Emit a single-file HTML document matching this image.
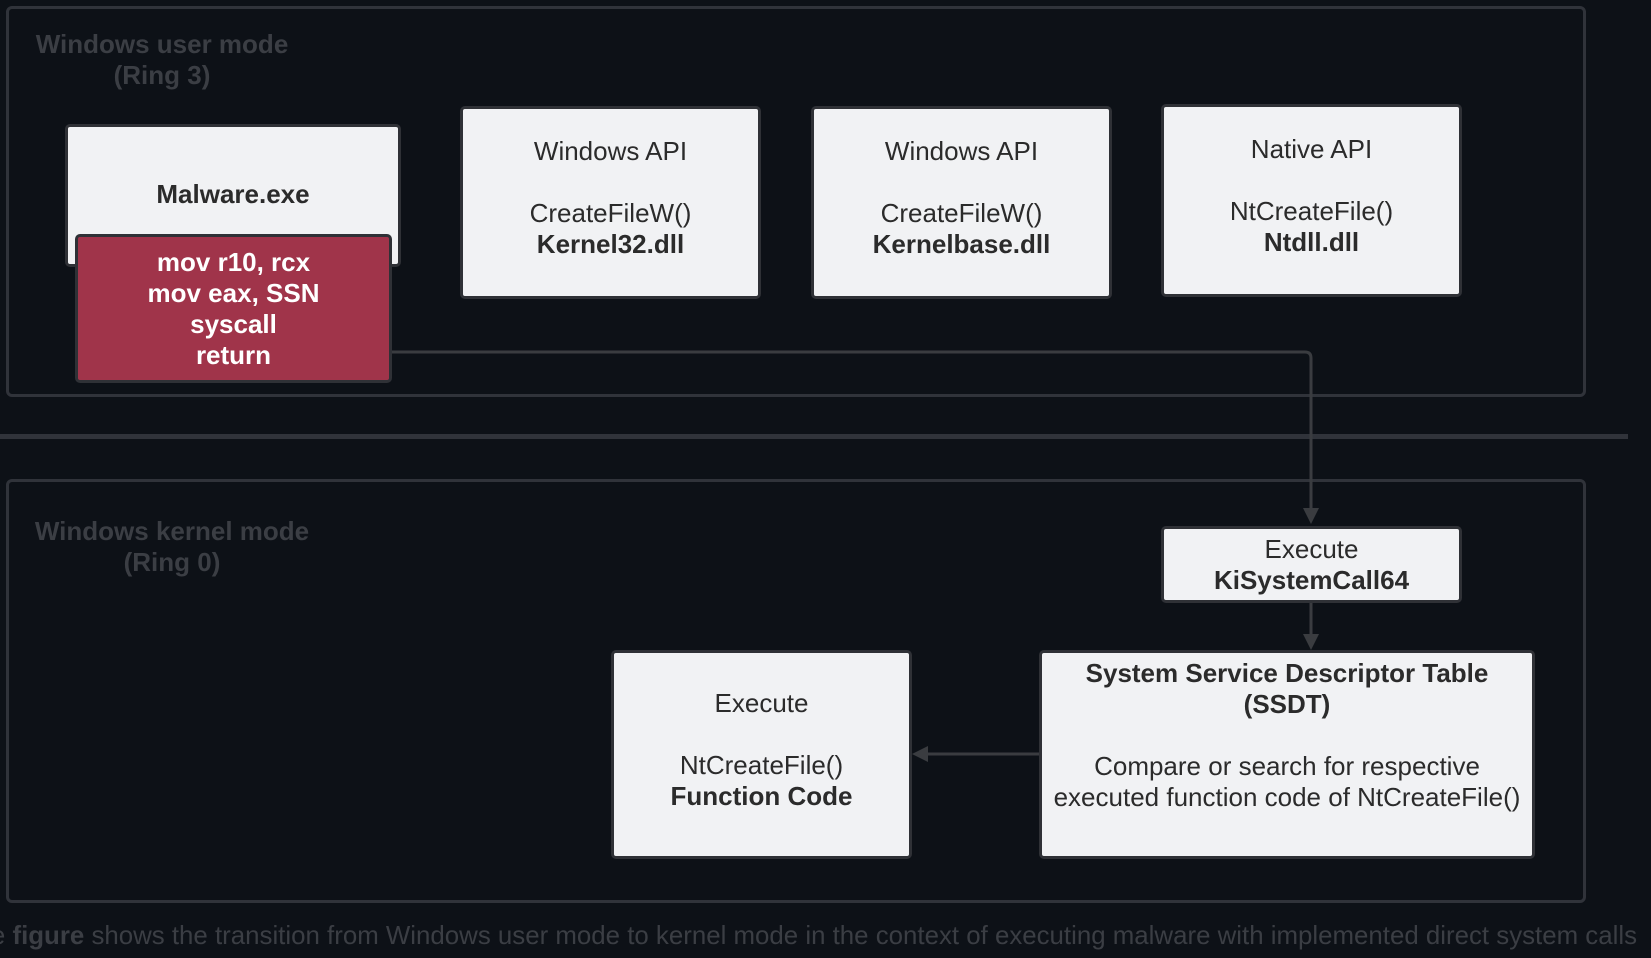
<!DOCTYPE html>
<html><head><style>
body{margin:0;width:1651px;height:958px;background:#0d1117;position:relative;overflow:hidden;font-family:"Liberation Sans",sans-serif;}
.a{position:absolute;box-sizing:border-box;}
.c{border:3px solid #30333a;border-radius:6px;}
.n{background:#f1f2f4;border:3px solid #2f3136;border-radius:5px;color:#2b2b2b;font-size:26px;line-height:31px;text-align:center;display:flex;flex-direction:column;justify-content:center;}
.lbl{color:#3b3e44;font-size:26px;font-weight:bold;text-align:center;line-height:31px;}
b{font-weight:bold;}
</style></head><body>
<div class="a c" style="left:6px;top:6px;width:1580px;height:391px"></div>
<div class="a" style="left:0;top:434px;width:1628px;height:5px;background:#30333a"></div>
<div class="a c" style="left:6px;top:479px;width:1580px;height:424px"></div>
<div class="a lbl" style="left:12px;top:29px;width:300px">Windows user mode<br>(Ring 3)</div>
<div class="a lbl" style="left:22px;top:516px;width:300px">Windows kernel mode<br>(Ring 0)</div>

<svg class="a" style="left:0;top:0" width="1651" height="958">
<g stroke="#3a3c40" stroke-width="3" fill="none">
<path d="M391 352 H1305 Q1311 352 1311 358 V512"/>
<path d="M1311 602 V640"/>
<path d="M1039 754 H924"/>
</g>
<g fill="#3a3c40">
<polygon points="1303,508 1319,508 1311,524"/>
<polygon points="1303,634 1319,634 1311,650"/>
<polygon points="928,746 928,762 912,754"/>
</g>
</svg>

<div class="a n" style="left:65px;top:124px;width:336px;height:143px;justify-content:flex-start;padding-top:52px"><b>Malware.exe</b></div>
<div class="a n" style="left:75px;top:234px;width:317px;height:149px;background:#a0344a;color:#fff;font-weight:bold"><div>mov r10, rcx<br>mov eax, SSN<br>syscall<br>return</div></div>
<div class="a n" style="left:460px;top:106px;width:301px;height:193px;padding-bottom:10px"><div>Windows API<br><br>CreateFileW()<br><b>Kernel32.dll</b></div></div>
<div class="a n" style="left:811px;top:106px;width:301px;height:193px;padding-bottom:10px"><div>Windows API<br><br>CreateFileW()<br><b>Kernelbase.dll</b></div></div>
<div class="a n" style="left:1161px;top:104px;width:301px;height:193px;padding-bottom:10px"><div>Native API<br><br>NtCreateFile()<br><b>Ntdll.dll</b></div></div>
<div class="a n" style="left:1161px;top:526px;width:301px;height:77px"><div>Execute<br><b>KiSystemCall64</b></div></div>
<div class="a n" style="left:611px;top:650px;width:301px;height:209px;padding-bottom:10px"><div>Execute<br><br>NtCreateFile()<br><b>Function Code</b></div></div>
<div class="a n" style="left:1039px;top:650px;width:496px;height:209px;justify-content:flex-start;padding-top:5px"><div><b>System Service Descriptor Table<br>(SSDT)</b><br><br>Compare or search for respective<br>executed function code of NtCreateFile()</div></div>

<div class="a" style="right:14px;top:921px;white-space:nowrap;color:#3b3e44;font-size:25.85px;line-height:30px">e <b>figure</b> shows the transition from Windows user mode to kernel mode in the context of executing malware with implemented direct system calls</div>
</body></html>
